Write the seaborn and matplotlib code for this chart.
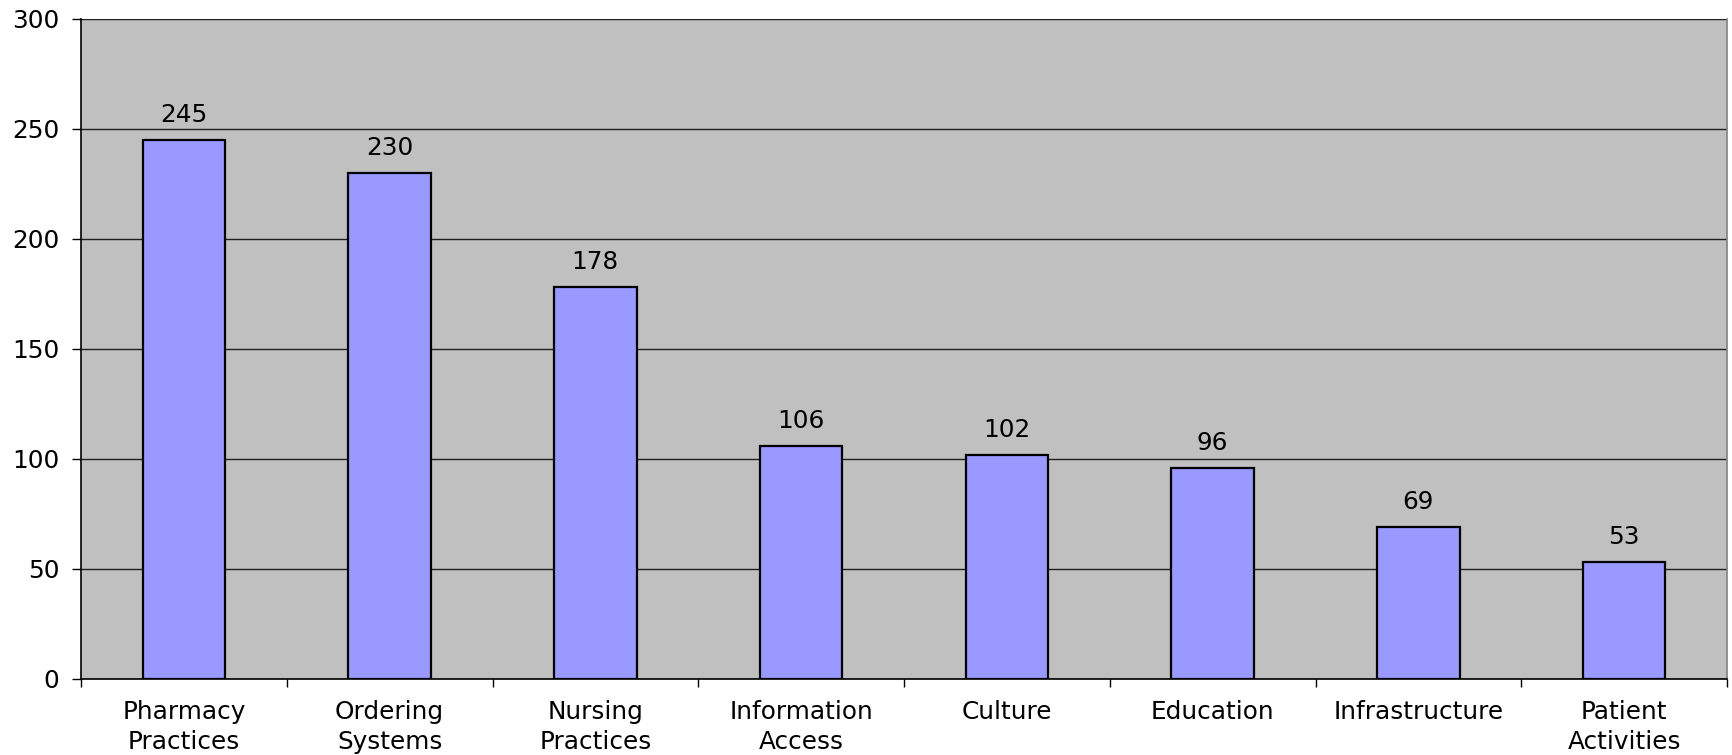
import matplotlib
matplotlib.use("Agg")
import matplotlib.pyplot as plt
import seaborn as sns
import pandas as pd

categories = ["Pharmacy\nPractices", "Ordering\nSystems", "Nursing\nPractices",
              "Information\nAccess", "Culture", "Education", "Infrastructure",
              "Patient\nActivities"]
counts = [245, 230, 178, 106, 102, 96, 69, 53]
y_ticks = [0, 50, 100, 150, 200, 250, 300]

sns.set_theme(style="white")
plt.rcParams["font.family"] = ["DejaVu Sans"]
plt.rcParams["text.color"] = "black"
plt.rcParams["xtick.color"] = "black"
plt.rcParams["ytick.color"] = "black"
plt.rcParams["xtick.labelcolor"] = "black"
plt.rcParams["ytick.labelcolor"] = "black"

df = pd.DataFrame({"category": categories, "count": counts})

FS = 17.8

fig = plt.figure(figsize=(17.32, 7.55), dpi=100)
ax = fig.add_axes([81 / 1732, 1 - 679 / 755, (1727 - 81) / 1732, (679 - 19) / 755])
ax.set_facecolor("#C0C0C0")

sns.barplot(data=df, x="category", y="count", color="#9999FF", width=0.4,
            edgecolor="black", linewidth=1.6, saturation=1, ax=ax, zorder=3)

ax.set_ylim(0, 300)
ax.set_xlim(-0.5, len(categories) - 0.5)
ax.set_yticks(y_ticks)
ax.yaxis.grid(True, color="#202020", linewidth=1.0, zorder=1)
ax.set_axisbelow(True)
ax.set_xlabel("")
ax.set_ylabel("")

# category boundary ticks on x axis, labels centred between them
ax.set_xticks([i - 0.5 for i in range(len(categories) + 1)], minor=False)
ax.set_xticklabels([])
ax.set_xticks(range(len(categories)), minor=True)
ax.set_xticklabels(categories, minor=True, fontsize=FS, linespacing=1.3,
                   color="black")
ax.tick_params(axis="x", which="major", direction="out", length=5.5, width=1,
               color="black", bottom=True)
ax.tick_params(axis="x", which="minor", length=0, pad=15)
ax.tick_params(axis="y", direction="out", length=6.5, width=1, color="black",
               left=True, labelsize=FS, pad=9, labelcolor="black")

ax.spines["top"].set_visible(False)
ax.spines["left"].set_color("black")
ax.spines["bottom"].set_color("black")
ax.spines["right"].set_color("#808080")
for s in ["left", "bottom", "right"]:
    ax.spines[s].set_linewidth(1.2)

for i, v in enumerate(counts):
    ax.annotate(str(v), (i, v), xytext=(0, 13), textcoords="offset points",
                ha="center", va="baseline", fontsize=FS, color="black")

fig.savefig("out.png", dpi=100, facecolor="white")
